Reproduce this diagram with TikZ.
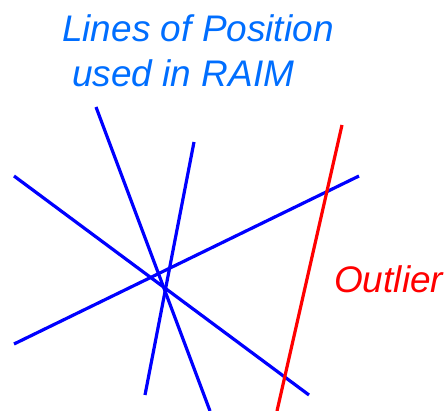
\documentclass[tikz,border=0pt]{standalone}
\usepackage{fontspec}
\setmainfont{Liberation Sans}
\usetikzlibrary{calc}
\definecolor{titleblue}{RGB}{0,110,255}

\begin{document}
\begin{tikzpicture}[x=1pt, y=-1pt]
		\useasboundingbox (0,0) rectangle (447,411);
		\tikzset{
			lop/.style={line width=3.2pt, color=blue},
			outlier/.style={line width=3.2pt, color=red},
			label/.style={font=\fontsize{37}{41}\selectfont\itshape, inner sep=0pt}
		}
		% end points of the lines of position
		\coordinate (a1) at (96,107);  \coordinate (a2) at (210,411);
		\coordinate (b1) at (194,142); \coordinate (b2) at (145,395);
		\coordinate (c1) at (14,176);  \coordinate (c2) at (309,395);
		\coordinate (d1) at (14,344);  \coordinate (d2) at (359,176);
		\coordinate (r1) at (342,125); \coordinate (r2) at (277,411);
		% lines of position
		\foreach \p in {a,b,c,d} {
			\draw[lop] (\p1) -- (\p2);
		}
		\draw[outlier] (r1) -- (r2);
		% labels
		\node[label, color=titleblue, anchor=base west] (title1) at (62,42) {Lines of Position};
		\node[label, color=titleblue, anchor=base west] (title2) at (72,87) {used in RAIM};
		\node[label, color=red, anchor=base west] (outl) at (334,293) {Outlier};
	\end{tikzpicture}
\end{document}
